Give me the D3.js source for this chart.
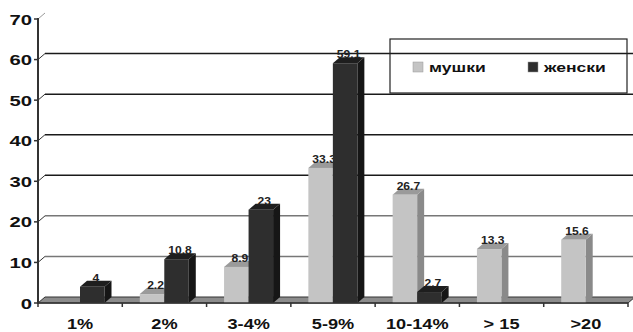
<!DOCTYPE html>
<html>
<head>
<meta charset="utf-8">
<script src="https://cdn.jsdelivr.net/npm/d3@7"></script>
<style>
  body { margin: 0; background: #fff; }
  svg { display: block; font-family: 'Liberation Sans', Arial, sans-serif; }
</style>
</head>
<body>
<svg id="chart" width="633" height="332"></svg>
<script>
const categories = ['1%', '2%', '3-4%', '5-9%', '10-14%', '> 15', '>20'];
const seriesNames = ['мушки', 'женски'];
const maleValues = [0, 2.2, 8.9, 33.3, 26.7, 13.3, 15.6];
const femaleValues = [4, 10.8, 23, 59.1, 2.7, 0, 0];
const yTicks = [0, 10, 20, 30, 40, 50, 60, 70];

// d3 v7 has no .attrs(), small stand-in
d3.selection.prototype.attrs = function(obj) {
  for (const k in obj) this.attr(k, obj[k]);
  return this;
};

const svg = d3.select('svg#chart');

const plotLeft = 38, plotRight = 628, plotBottom = 303, plotTop = 19;
const depth = { x: 7, y: -6 };
const colors = {
  'мушки': { front: '#c4c4c4', top: '#9a9a9a', side: '#8a8a8a' },
  'женски': { front: '#2e2e2e', top: '#1e1e1e', side: '#161616' }
};

const x = d3.scaleBand().domain(categories).range([plotLeft, plotRight]);
const x1 = d3.scaleBand().domain(seriesNames).range([17.5, 66.5]);
const y = d3.scaleLinear().domain([0, 70]).range([plotBottom, plotTop]);

drawGrid();
drawFloor();
drawBars();
drawAxes();
drawLegend();

function pts(arr) {
  return arr.map(p => p.join(',')).join(' ');
}

// the original picture is stretched sideways, so text is too
function label(str, tx, ty, size, anchor, stretch) {
  return svg.append('text').text(str).attrs({
    transform: `translate(${tx},${ty}) scale(${stretch},1)`,
    'text-anchor': anchor,
    'font-size': size,
    'font-weight': 'bold',
    fill: '#111'
  });
}

function drawGrid() {
  yTicks.forEach(function(t) {
    if (t === 0) return;
    const light = t === 10 || t === 20;
    svg.append('line').attrs({
      x1: plotLeft, y1: y(t), x2: plotLeft + depth.x, y2: y(t) + depth.y,
      stroke: '#333', 'stroke-width': t === 70 ? 0.5 : 1
    });
    if (t === 70) return;
    svg.append('line').attrs({
      x1: plotLeft + depth.x, y1: y(t) + depth.y,
      x2: plotRight + depth.x, y2: y(t) + depth.y,
      stroke: light ? '#777' : '#1a1a1a', 'stroke-width': 1.5
    });
  });
}

function drawFloor() {
  svg.append('polygon').attrs({
    points: pts([
      [plotLeft, plotBottom], [plotLeft + depth.x, plotBottom + depth.y],
      [plotRight + depth.x, plotBottom + depth.y], [plotRight, plotBottom]
    ]),
    fill: '#8c8c8c', stroke: '#333', 'stroke-width': 1
  });
}

function drawBars() {
  const rows = [];
  categories.forEach(function(c, i) {
    rows.push({ cat: c, series: 'мушки', value: maleValues[i] });
    rows.push({ cat: c, series: 'женски', value: femaleValues[i] });
  });

  rows.forEach(function(d) {
    if (d.value <= 0) return;
    const bx = x(d.cat) + x1(d.series);
    const bw = x1.bandwidth();
    const by = y(d.value);
    const col = colors[d.series];
    const g = svg.append('g');

    // side face
    g.append('polygon').attrs({
      points: pts([[bx + bw, by], [bx + bw + depth.x, by + depth.y],
        [bx + bw + depth.x, plotBottom + depth.y], [bx + bw, plotBottom]]),
      fill: col.side
    });
    // top face
    g.append('polygon').attrs({
      points: pts([[bx, by], [bx + depth.x, by + depth.y],
        [bx + bw + depth.x, by + depth.y], [bx + bw, by]]),
      fill: col.top
    });
    // front face
    g.append('rect').attrs({
      x: bx, y: by, width: bw, height: plotBottom - by, fill: col.front
    });

    label(String(d.value), bx + bw / 2 + depth.x / 2, by + depth.y + 1, 11, 'middle', 1.1)
      .attr('fill', '#222');
  });
}

function drawAxes() {
  // y axis
  svg.append('line').attrs({
    x1: plotLeft, y1: plotTop - 1, x2: plotLeft, y2: plotBottom + 1,
    stroke: '#333', 'stroke-width': 2
  });
  yTicks.forEach(function(t) {
    svg.append('line').attrs({
      x1: plotLeft - 4, y1: y(t), x2: plotLeft, y2: y(t), stroke: '#333', 'stroke-width': 1.5
    });
    label(t, 32, y(t) + 5.5, 15, 'end', 1.35);
  });

  // x axis
  svg.append('line').attrs({
    x1: plotLeft, y1: plotBottom, x2: plotRight, y2: plotBottom, stroke: '#333', 'stroke-width': 1.5
  });
  x.domain().concat([null]).forEach(function(c) {
    const tx = c === null ? plotRight : x(c);
    svg.append('line').attrs({
      x1: tx, y1: plotBottom, x2: tx, y2: plotBottom + 4, stroke: '#333', 'stroke-width': 1.5
    });
  });
  categories.forEach(function(c) {
    label(c, x(c) + x.bandwidth() / 2, 329, 14, 'middle', 1.3);
  });
}

function drawLegend() {
  svg.append('rect').attrs({
    x: 390, y: 39, width: 237, height: 54,
    fill: 'none', stroke: '#222', 'stroke-width': 1.2
  });
  const items = [
    { name: 'мушки', sx: 413, tx: 429 },
    { name: 'женски', sx: 528, tx: 544 }
  ];
  items.forEach(function(it) {
    svg.append('rect').attrs({
      x: it.sx, y: 62, width: 10, height: 10,
      fill: colors[it.name].front, stroke: '#999', 'stroke-width': 0.5
    });
    label(it.name, it.tx, 72, 13, 'start', 1.35);
  });
}
</script>
</body>
</html>
